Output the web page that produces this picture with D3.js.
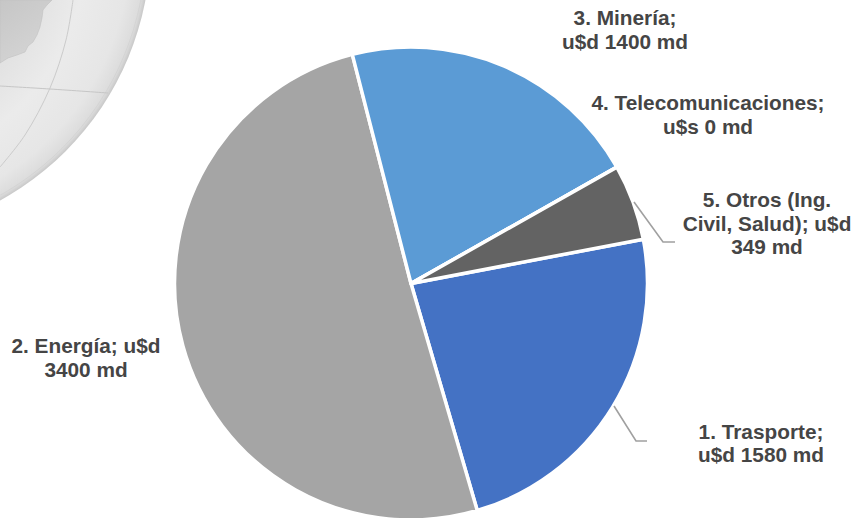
<!DOCTYPE html>
<html><head><meta charset="utf-8">
<style>html,body{margin:0;background:#fff}svg{display:block}text{font-family:"Liberation Sans",Arial,sans-serif;font-weight:700;font-size:20.8px;fill:#454545;text-anchor:middle}</style>
<script src="https://cdn.jsdelivr.net/npm/d3@7"></script></head><body><svg id="c" width="857" height="518"></svg>
<script>
const categories=["1. Trasporte","2. Energía","3. Minería","4. Telecomunicaciones","5. Otros (Ing. Civil, Salud)"];
const values=[1580,3400,1400,0,349];
const colors=["#4472c4","#a5a5a5","#5b9bd5","#ffc000","#636363"];
const labelLines=[["1. Trasporte;","u$d 1580 md"],["2. Energía; u$d","3400 md"],["3. Minería;","u$d 1400 md"],["4. Telecomunicaciones;","u$s 0 md"],["5. Otros (Ing.","Civil, Salud); u$d","349 md"]];
const labelAnchors=[[761,438.5],[86,353],[625,25],[708,110],[767,207]];
const leaders=[[[614,406],[636,441],[647,441]],null,null,null,[[634,202],[663,242],[675,242]]];
const svg=d3.select("#c");
const defs=svg.append("defs");
const grad=defs.append("radialGradient").attr("id","sphere").attr("gradientUnits","userSpaceOnUse").attr("cx",-140).attr("cy",-54).attr("r",290.5);
[[0,"#d8d8d8"],[.6,"#e0e0e0"],[.78,"#ebebeb"],[.93,"#e6e6e6"],[.985,"#dcdcdc"],[1,"#c8c8c8"]].forEach(([o,c])=>grad.append("stop").attr("offset",o).attr("stop-color",c));
const land=defs.append("linearGradient").attr("id","land").attr("gradientUnits","userSpaceOnUse").attr("x1",0).attr("y1",0).attr("x2",45).attr("y2",60);
[[0,"#c6c6c6"],[1,"#d6d6d6"]].forEach(([o,c])=>land.append("stop").attr("offset",o).attr("stop-color",c));
const blur=defs.append("filter").attr("id","soft");blur.append("feGaussianBlur").attr("stdDeviation",.5);
// corner globe with two grid lines and a patch of land
const g=svg.append("g").attr("filter","url(#soft)");
g.append("circle").attr("cx",-140).attr("cy",-54).attr("r",290.5).attr("fill","url(#sphere)");
g.append("circle").attr("cx",-140).attr("cy",-54).attr("r",286).attr("fill","none").attr("stroke","#d4d4d4");
const ln=d3.line().curve(d3.curveCatmullRom);
g.append("path").attr("d",ln([[0,86],[50,89],[108,93]])).attr("fill","none").attr("stroke","#c6c6c6");
g.append("path").attr("d",ln([[73,0],[66,40],[50,88],[25,135],[0,167]])).attr("fill","none").attr("stroke","#cbcbcb");
g.append("path").attr("d",d3.line()([[52,0],[47,5],[43,10],[42,18],[40,27],[37,35],[33,42],[28,46],[25,52],[17,55],[8,58],[0,63]])+"L0,0Z").attr("fill","url(#land)").attr("stroke","#bdbdbd").attr("stroke-width",.5);
// pie, with the first slice starting just short of three o'clock
const cx=411,cy=283.5,r=236.5;
const a0=79.2*Math.PI/180;
const pie=d3.pie().sort(null).startAngle(a0).endAngle(a0+2*Math.PI);
const arc=d3.arc().innerRadius(0).outerRadius(r);
svg.append("g").attr("transform",`translate(${cx},${cy})`).selectAll("path").data(pie(values)).join("path").attr("d",arc).attr("fill",(d,i)=>colors[i]).attr("stroke","#fff").attr("stroke-width",3.5).attr("stroke-linejoin","round");
svg.append("g").selectAll("path").data(leaders.filter(Boolean)).join("path").attr("d",d3.line()).attr("fill","none").attr("stroke","#a0a0a0").attr("stroke-width",1.6);
// data labels
const t=svg.append("g").selectAll("text").data(labelLines).join("text").attr("x",(d,i)=>labelAnchors[i][0]).attr("y",(d,i)=>labelAnchors[i][1]);
t.selectAll("tspan").data((d,i)=>d.map(s=>[s,i])).join("tspan").attr("x",d=>labelAnchors[d[1]][0]).attr("dy",(d,j)=>j?23.5:0).text(d=>d[0]);
</script></body></html>
